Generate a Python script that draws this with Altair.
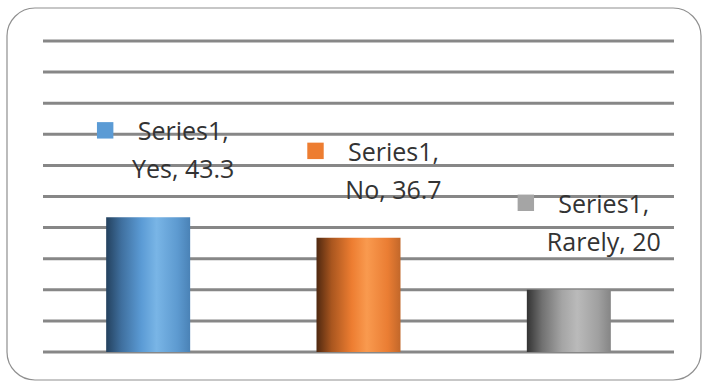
import altair as alt
import pandas as pd

# ---- data ----
categories = ["Yes", "No", "Rarely"]
values = [43.3, 36.7, 20]
series_name = "Series1"
key_colors = ["#5b9bd5", "#ed7d31", "#a5a5a5"]
y_ticks = [0, 10, 20, 30, 40, 50, 60, 70, 80, 90, 100]

df = pd.DataFrame({"cat": categories, "val": values, "series": [series_name] * len(categories)})

gradients = {
    "Yes": ["#24415e", "#3f6f9e", "#5b9bd5", "#79b5e6", "#5d9ad0", "#4a82b6"],
    "No": ["#4f2810", "#a9561f", "#ed7d31", "#f99a4f", "#ea7d33", "#c2672a"],
    "Rarely": ["#333333", "#707070", "#a5a5a5", "#bababa", "#a0a0a0", "#858585"],
}
offsets = [0, 0.18, 0.42, 0.6, 0.85, 1]

W, H = 631, 311

x_enc = alt.X("cat:N", sort=categories, axis=None,
              scale=alt.Scale(paddingInner=0, paddingOuter=0))
y_scale = alt.Scale(domain=[0, 100], nice=False)

base = alt.Chart(df)

# frame (decoration)
frame = base.mark_rect(
    fill="white", stroke="#8f8f8f", strokeWidth=1.2, cornerRadius=28
).encode(
    x=alt.value(-36), x2=alt.value(658), y=alt.value(-33), y2=alt.value(339)
).transform_filter(alt.datum.cat == "Yes")

grid = alt.Chart(pd.DataFrame({"t": y_ticks})).mark_rule(
    color="#878787", strokeWidth=3
).encode(
    y=alt.Y("t:Q", scale=y_scale, axis=None),
    x=alt.value(0), x2=alt.value(W),
)

bars = []
for cat in categories:
    stops = [{"offset": o, "color": c} for o, c in zip(offsets, gradients[cat])]
    b = base.mark_bar(
        size=84,
        color={"gradient": "linear", "x1": 0, "x2": 1, "y1": 0, "y2": 0, "stops": stops},
    ).encode(
        x=x_enc,
        y=alt.Y("val:Q", scale=y_scale, axis=None),
    ).transform_filter(alt.datum.cat == cat)
    bars.append(b)

labels = base.mark_text(
    font="Open Sans", fontSize=25, color="#333333", align="center",
    baseline="alphabetic", dx=35, dy=-77, lineHeight=38,
).transform_calculate(
    lbl="[datum.series + ',', datum.cat + ', ' + datum.val]"
).encode(
    x=x_enc,
    y=alt.Y("val:Q", scale=y_scale, axis=None),
    text="lbl:N",
)

keys = base.mark_point(
    shape="square", filled=True, size=270, opacity=1, xOffset=-43, yOffset=-87
).encode(
    x=x_enc,
    y=alt.Y("val:Q", scale=y_scale, axis=None),
    color=alt.Color("cat:N", scale=alt.Scale(domain=categories, range=key_colors), legend=None),
)

chart = alt.layer(frame, grid, *bars, labels, keys).properties(
    width=W, height=H,
    autosize=alt.AutoSizeParams(type="none"),
    padding={"left": 43, "top": 41, "right": 29, "bottom": 30},
    background="white",
).configure_view(stroke=None)

chart.save("out.html", embed_options={"renderer": "svg", "actions": False})
